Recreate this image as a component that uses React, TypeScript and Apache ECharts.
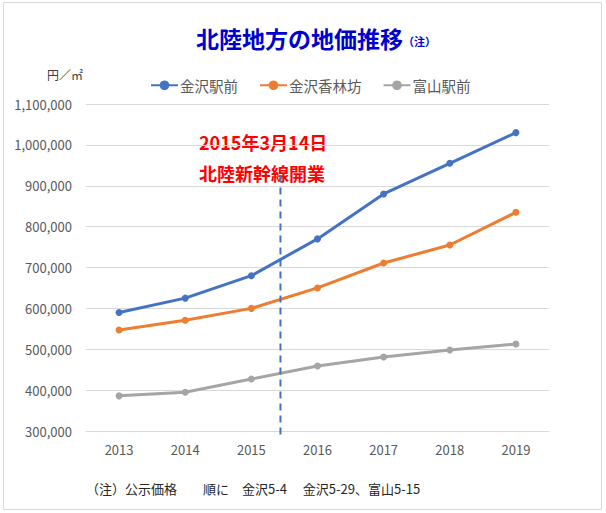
import React, { useEffect, useRef } from "react";
import * as echarts from "echarts";

const years = ["2013", "2014", "2015", "2016", "2017", "2018", "2019"];
const kanazawaEki = [590000, 625000, 680000, 770000, 880000, 955000, 1030000];
const kanazawaKorinbo = [547000, 571000, 600000, 650000, 711000, 755000, 835000];
const toyamaEki = [386000, 395000, 427000, 459000, 481000, 498000, 513000];
const seriesNames = ["金沢駅前", "金沢香林坊", "富山駅前"];
const seriesColors = ["#4472C4", "#ED7D31", "#A5A5A5"];
// Shinkansen opening (2015-03-14) as a fractional category position
const openingPos = 2.44;
const openingLine = [
  [openingPos, 925000],
  [openingPos, 290000],
];

const FONT = "'Noto Sans CJK JP', 'Noto Sans', sans-serif";

export default function App() {
  const ref = useRef<HTMLDivElement>(null);
  useEffect(() => {
    document.body.style.margin = "0";
    const chart = echarts.init(ref.current!, null, { renderer: "svg" });
    const allData = [kanazawaEki, kanazawaKorinbo, toyamaEki];
    chart.setOption({
      animation: false,
      backgroundColor: "#ffffff",
      textStyle: { fontFamily: FONT },
      title: {
        left: 191,
        top: 21,
        text: "{a|北陸地方の地価推移}{b|（注）}",
        textStyle: {
          rich: {
            a: { fontSize: 23, fontWeight: "bold", color: "#0000CC", fontFamily: FONT },
            b: { fontSize: 11, color: "#0000CC", fontFamily: FONT, padding: [6, 0, 0, 0] },
          },
        },
      },
      legend: {
        data: seriesNames,
        top: 73,
        left: 145,
        itemGap: 21,
        itemWidth: 27,
        itemHeight: 12,
        textStyle: { fontSize: 14.5, color: "#595959", fontFamily: FONT, padding: [0, 0, 0, -3] },
      },
      grid: { left: 86, right: 57, top: 104, bottom: 82 },
      xAxis: [
        {
          type: "category",
          data: years,
          boundaryGap: true,
          axisLine: { lineStyle: { color: "#D9D9D9", width: 1 } },
          axisTick: { show: false },
          axisLabel: { fontSize: 13, color: "#595959", margin: 12, fontFamily: FONT },
        },
        {
          type: "value",
          min: -0.5,
          max: 6.5,
          show: false,
        },
      ],
      yAxis: {
        type: "value",
        min: 300000,
        max: 1100000,
        interval: 100000,
        axisLine: { show: false },
        axisTick: { show: false },
        splitLine: { lineStyle: { color: "#D9D9D9", width: 1 } },
        axisLabel: {
          fontSize: 13,
          color: "#595959",
          margin: 14,
          fontFamily: FONT,
          formatter: (v: number) => v.toLocaleString("en-US"),
        },
      },
      series: [
        ...seriesNames.map((n, i) => ({
          name: n,
          type: "line",
          data: allData[i],
          symbol: "circle",
          symbolSize: 7,
          itemStyle: { color: seriesColors[i] },
          lineStyle: { color: seriesColors[i], width: 3 },
        })),
        {
          name: "開業",
          type: "line",
          xAxisIndex: 1,
          data: openingLine,
          symbol: "none",
          clip: false,
          lineStyle: { color: "#4472C4", width: 2, type: [7, 5] },
          silent: true,
        },
      ],
      graphic: [
        {
          type: "rect",
          shape: { x: 3.5, y: 2.5, width: 598, height: 507 },
          style: { fill: "none", stroke: "#D9D9D9", lineWidth: 1 },
          silent: true,
        },
        {
          type: "text",
          left: 47,
          top: 68,
          style: { text: "円／㎡", fontSize: 12, fill: "#404040", fontFamily: FONT },
        },
        {
          type: "text",
          left: 199,
          top: 133,
          style: {
            text: "2015年3月14日",
            fontSize: 18,
            fontWeight: "bold",
            fill: "#FF0000",
            fontFamily: FONT,
          },
        },
        {
          type: "text",
          left: 199,
          top: 164,
          style: {
            text: "北陸新幹線開業",
            fontSize: 18,
            fontWeight: "bold",
            fill: "#FF0000",
            fontFamily: FONT,
          },
        },
        {
          type: "text",
          left: 86,
          top: 482,
          style: {
            text: "（注）公示価格　　順に　金沢5-4　 金沢5-29、富山5-15",
            fontSize: 13,
            fill: "#262626",
            fontFamily: FONT,
          },
        },
      ],
    });
    return () => chart.dispose();
  }, []);
  return <div ref={ref} style={{ width: 606, height: 513 }} />;
}
